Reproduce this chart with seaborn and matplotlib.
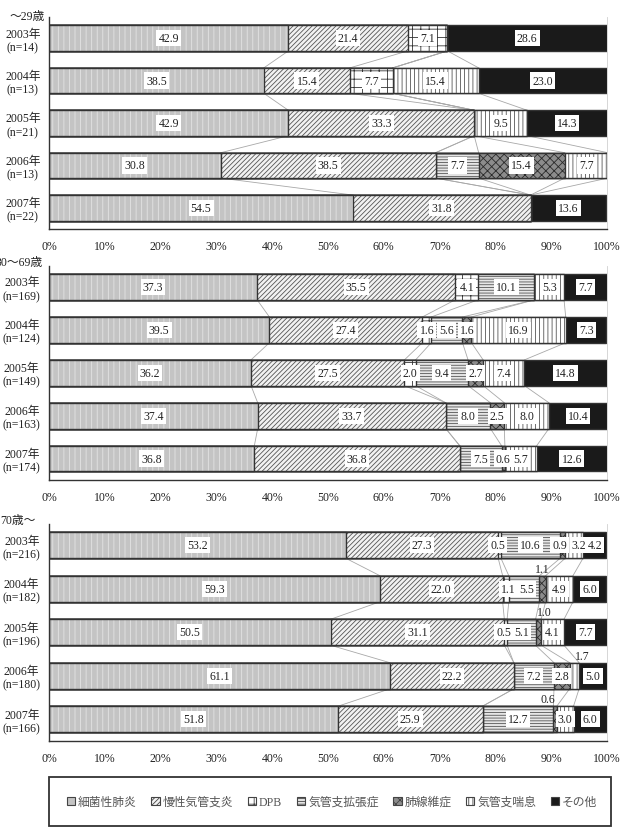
import numpy as np
import pandas as pd
import matplotlib
matplotlib.use('Agg')
import matplotlib.pyplot as plt
from matplotlib.patches import Patch, Rectangle
import seaborn as sns

categories = ['細菌性肺炎', '慢性気管支炎', 'DPB', '気管支拡張症', '肺線維症', '気管支喘息', 'その他']

# ~29歳
young_years = ['2003年\n(n=14)', '2004年\n(n=13)', '2005年\n(n=21)', '2006年\n(n=13)', '2007年\n(n=22)']
young_values = [
    [42.9, 21.4, 7.1, 0, 0, 0, 28.6],
    [38.5, 15.4, 7.7, 0, 0, 15.4, 23.0],
    [42.9, 33.3, 0, 0, 0, 9.5, 14.3],
    [30.8, 38.5, 0, 7.7, 15.4, 7.7, 0],
    [54.5, 31.8, 0, 0, 0, 0, 13.6],
]

# 30~69歳
middle_years = ['2003年\n(n=169)', '2004年\n(n=124)', '2005年\n(n=149)', '2006年\n(n=163)', '2007年\n(n=174)']
middle_values = [
    [37.3, 35.5, 4.1, 10.1, 0, 5.3, 7.7],
    [39.5, 27.4, 1.6, 5.6, 1.6, 16.9, 7.3],
    [36.2, 27.5, 2.0, 9.4, 2.7, 7.4, 14.8],
    [37.4, 33.7, 0, 8.0, 2.5, 8.0, 10.4],
    [36.8, 36.8, 0, 7.5, 0.6, 5.7, 12.6],
]

# 70歳~
old_years = ['2003年\n(n=216)', '2004年\n(n=182)', '2005年\n(n=196)', '2006年\n(n=180)', '2007年\n(n=166)']
old_values = [
    [53.2, 27.3, 0.5, 10.6, 0.9, 3.2, 4.2],
    [59.3, 22.0, 1.1, 5.5, 1.1, 4.9, 6.0],
    [50.5, 31.1, 0.5, 5.1, 1.0, 4.1, 7.7],
    [61.1, 22.2, 0, 7.2, 2.8, 1.7, 5.0],
    [51.8, 25.9, 0, 12.7, 0.6, 3.0, 6.0],
]
# small values printed above the bar: (row, category) -> x shift
old_lifted = {(1, 4): 0.0, (2, 4): 1.0, (3, 5): 1.5, (4, 4): -1.3}
# boxed labels nudged sideways to avoid overlap
old_nudge = {(0, 2): -0.3, (0, 4): -0.5, (0, 5): 0.9, (1, 2): 0.5, (1, 3): 0.4, (2, 2): -0.3}

fills = ['#c4c4c4', '#f2f2f2', 'white', '#e6e6e6', '#8c8c8c', 'white', '#1a1a1a']
hatch_colors = ['#e4e4e4', '#555555', '#333333', '#555555', '#2a2a2a', '#555555', '#1a1a1a']
hatches = ['|||', '///////', '++', '------', 'xxxx', '||||', '']

sns.set_style('white')
plt.rcParams['font.family'] = ['Liberation Serif', 'Noto Sans CJK JP']
plt.rcParams['hatch.linewidth'] = 0.6

W, H = 624, 828
fig = plt.figure(figsize=(W / 100, H / 100), dpi=100)

panels = [
    ('～29歳', young_years, young_values, {}, {}, (18, 230), (45, 17, 'right')),
    ('30～69歳', middle_years, middle_values, {}, {}, (266.5, 481), (43, 263, 'right')),
    ('70歳～', old_years, old_values, old_lifted, old_nudge, (524.5, 742), (0, 521, 'left')),
]

bw = 0.6
for title, years, values, lifted, nudge, (top, bottom), (tx, ty, tha) in panels:
    ax = fig.add_axes([49 / W, 1 - bottom / H, 558 / W, (bottom - top) / H])
    df = pd.DataFrame(values, columns=categories)
    cum = df.cumsum(axis=1)

    # stacked bars: draw cumulative totals from the last category back
    for k in range(len(categories) - 1, -1, -1):
        d = pd.DataFrame({'year': years, 'x': cum[categories[k]]})
        sns.barplot(data=d, x='x', y='year', orient='h', order=years, width=bw,
                    color=fills[k], edgecolor=hatch_colors[k], hatch=hatches[k],
                    linewidth=0, errorbar=None, ax=ax)
        sns.barplot(data=d, x='x', y='year', orient='h', order=years, width=bw,
                    facecolor='none', edgecolor='#333333', linewidth=1.0,
                    errorbar=None, ax=ax)

    # series lines between bars
    for i in range(len(years) - 1):
        for k in range(len(categories) - 1):
            ax.plot([cum.iloc[i, k], cum.iloc[i + 1, k]], [i + bw / 2, i + 1 - bw / 2],
                    color='#a8a8a8', lw=0.6, zorder=0)

    # value labels
    for i in range(len(years)):
        for k in range(len(categories)):
            v = df.iloc[i, k]
            if v <= 0:
                continue
            xc = cum.iloc[i, k] - v / 2
            if (i, k) in lifted:
                ax.text(xc + lifted[(i, k)], i - bw / 2 - 0.02, f'{v:.1f}', ha='center', va='bottom',
                        fontsize=8.5, color='#222222')
            else:
                ax.text(xc + nudge.get((i, k), 0), i, f'{v:.1f}', ha='center', va='center',
                        fontsize=8.5, color='#222222',
                        bbox=dict(boxstyle='square,pad=0.18', fc='white', ec='none'))

    ax.set_xlim(0, 100)
    ax.set_ylim(len(years) - 0.5, -0.5)
    ax.set_xticks(range(0, 101, 10))
    ax.set_xticklabels([f'{t}%' for t in range(0, 101, 10)], fontsize=8.5, color='#222222')
    ax.set_xlabel('')
    ax.set_ylabel('')
    ax.tick_params(axis='x', direction='in', length=3, width=0.8, color='#333333', pad=8)
    ax.tick_params(axis='y', length=0, pad=6, labelsize=8.5, labelcolor='#222222')
    for t in ax.get_yticklabels():
        t.set_multialignment('center')
        t.set_linespacing(1.15)
    ax.spines['top'].set_visible(False)
    ax.spines['right'].set_color('#d0d0d0')
    ax.spines['right'].set_linewidth(0.6)
    for s in ['left', 'bottom']:
        ax.spines[s].set_color('#333333')
        ax.spines[s].set_linewidth(1.0)

    fig.text(tx / W, 1 - ty / H, title, ha=tha, va='center', fontsize=8.5, color='#222222')

# legend box
fig.patches.append(Rectangle((49 / W, 1 / H), 562 / W, 49 / H, transform=fig.transFigure,
                             fill=False, edgecolor='#333333', linewidth=1.3))
handles = [Patch(facecolor=fills[k], edgecolor='#444444', hatch=hatches[k] if k else '', linewidth=0.8)
           for k in range(len(categories))]
fig.legend(handles, categories, loc='center', bbox_to_anchor=(62 / W, 12 / H, 540 / W, 26 / H),
           mode='expand', ncol=7, frameon=False,
           handlelength=0.7, handleheight=0.7, handletextpad=0.25, fontsize=8.5,
           labelcolor='#555555', borderaxespad=0)

fig.savefig('out.png', dpi=100)
